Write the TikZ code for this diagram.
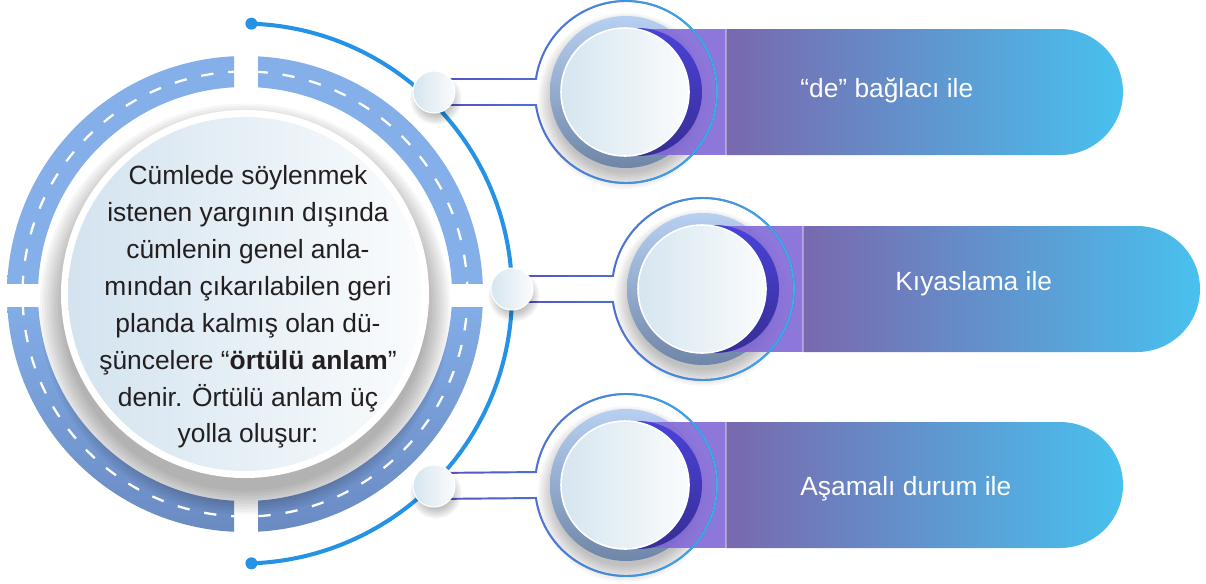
\documentclass[tikz,border=0pt]{standalone}
\usepackage{fontspec}
\setmainfont{Liberation Sans}
\usetikzlibrary{calc, fadings}
\definecolor{ArcBlue}{HTML}{2592E6}
\definecolor{RoadBlue}{HTML}{84AFE9}
\definecolor{RoadDark}{HTML}{6A8AC2}
\definecolor{HubLeft}{HTML}{D3E3EF}
\definecolor{InkDark}{HTML}{231F20}
\definecolor{PillLeft}{HTML}{7968AE}
\definecolor{PillRight}{HTML}{48C1EE}
\definecolor{BandPurple}{HTML}{8268D6}
\definecolor{IndigoTop}{HTML}{4A42D8}
\definecolor{IndigoBot}{HTML}{372E96}
\definecolor{DiskTop}{HTML}{B7D0F2}
\definecolor{DiskBot}{HTML}{6F86A8}
\definecolor{FaceLeft}{HTML}{D6E5EF}
\definecolor{FaceRight}{HTML}{FAFCFD}
\definecolor{KeyBlue}{HTML}{5A4CC4}
\definecolor{KeyCyan}{HTML}{33B6EC}

\tikzset{
  knob/.style={circle, minimum size=0.84cm, inner sep=0pt, draw=white, line width=0.6pt, left color=FaceLeft, right color=FaceRight},
  facedisk/.style={circle, minimum size=2.56cm, inner sep=0pt, draw=white, line width=0.9pt, left color=FaceLeft, right color=FaceRight},
  roaddash/.style={white, line width=1.3pt, dash pattern=on 7pt off 8.5pt},
  keyline/.style={line width=1.1pt},
  itemtext/.style={text=white, font={\fontsize{15}{21}\selectfont}, anchor=base west, inner sep=0pt},
}

\begin{document}
\begin{tikzpicture}[x=0.02cm, y=0.02cm]
  \useasboundingbox (0,0) rectangle (1206,583);
  \coordinate (hub) at (245,289);
  \coordinate (arcc) at (242,289.5);

  % road ring, four quarters
  \foreach \sx/\sy/\low in {1/1/RoadBlue, -1/1/RoadBlue, -1/-1/RoadDark, 1/-1/RoadDark} {
    \begin{scope}
      \clip ({246+12*(\sx)},{288+12*(\sy)}) rectangle ({246+300*(\sx)},{288+300*(\sy)});
      \shade[even odd rule, top color=RoadBlue, bottom color=\low, middle color=RoadBlue] (hub) circle (238) (hub) circle (207);
      \draw[roaddash] (hub) circle (222.5);
    \end{scope}
  }

  % centre disk
  \foreach \i in {0,...,9}
    \fill[black, opacity=0.035] ($(hub)+(0,-15)$) circle ({182+2.6*\i});
  \fill[white] (hub) circle (184);
  \shade[left color=HubLeft, right color=FaceRight] (hub) circle (177);
  \node[align=center, text=InkDark, font={\fontsize{15}{21}\selectfont}] (main) at (248,276)
    {Cümlede söylenmek\\ istenen yargının dışında\\ cümlenin genel anla-\\ mından çıkarılabilen geri\\
     planda kalmış olan dü-\\ şüncelere “\textbf{örtülü anlam}”\\ denir. Örtülü anlam üç\\ yolla oluşur:};

  % outer arc
  \coordinate (atop) at ($(arcc)+(88:270)$);
  \coordinate (abot) at ($(arcc)+(-88:270)$);
  \draw[ArcBlue, line width=2.3pt] (atop) arc[start angle=88, end angle=-88, radius=270];
  \fill[ArcBlue] (atop) circle (6) (abot) circle (6);

  \coordinate (k1) at (434,491);
  \coordinate (k2) at (512,294);
  \coordinate (k3) at (434,97);

  % items
  \foreach \n/\cx/\cy in {1/626/491, 2/703/294, 3/626/98} {
    \coordinate (c\n) at (\cx,\cy);
    \shade[left color=PillLeft, right color=PillRight] (\cx+100,\cy+63) -- (\cx+434,\cy+63)
      arc[start angle=90, end angle=-90, radius=63] -- (\cx+100,\cy-63) -- cycle;
    \foreach \i in {0,...,8}
      \fill[black, opacity=0.03] ($(c\n)+(0,-9)$) circle ({72+2*\i});
    \shade[top color=DiskTop, bottom color=DiskBot] (c\n) circle (76);
    \fill[BandPurple, opacity=0.9] (\cx+14,\cy-63) rectangle (\cx+100,\cy+63);
    \draw[white, opacity=0.35, line width=0.6pt] (\cx+100,\cy-63) -- (\cx+100,\cy+63);
    \shade[top color=IndigoTop, bottom color=IndigoBot] ($(c\n)+(12,0)$) circle (64);
    \node[facedisk] (face\n) at ($(c\n)+(-1,0)$) {};
    \draw[keyline, KeyBlue] ($(k\n)+(0,13)$) -- ($(c\n)+(171.8:91)$)
      arc[start angle=171.8, end angle=-171.8, radius=91] -- ($(k\n)+(0,-13)$);
    \draw[keyline, KeyCyan, path fading=west] ($(k\n)+(0,13)$) -- ($(c\n)+(171.8:91)$)
      arc[start angle=171.8, end angle=-171.8, radius=91] -- ($(k\n)+(0,-13)$);
  }

  % knobs on the arc
  \foreach \n in {1,2,3} {
    \foreach \i in {0,...,6}
      \fill[black, opacity=0.04] ($(k\n)+(2,-7)$) circle ({16+1.6*\i});
    \node[knob] (knob\n) at (k\n) {};
  }

  \node[itemtext] (lab1) at (800,486) {“de” bağlacı ile};
  \node[itemtext] (lab2) at (895,293) {Kıyaslama ile};
  \node[itemtext] (lab3) at (800,88) {Aşamalı durum ile};
\end{tikzpicture}
\end{document}
